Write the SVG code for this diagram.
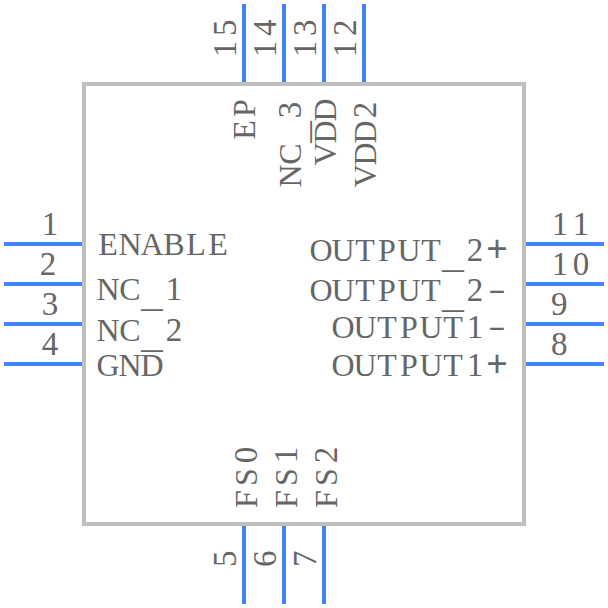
<svg xmlns="http://www.w3.org/2000/svg" width="608" height="608" viewBox="0 0 608 608">
<style>
.b{fill:none;stroke:#bfbfbf;stroke-width:4}
.p{stroke:#4286f4;stroke-width:4;fill:none}
text{font-family:"Liberation Serif","Times New Roman",serif;fill:#666;font-size:32px}
.n,.d{font-size:33px}
.u{font-family:"Liberation Mono","Courier New",monospace;font-size:36.7px}
.h{font-family:"Liberation Mono","Courier New",monospace;font-size:30px}
</style>
<rect width="608" height="608" fill="#fff"/>
<g id="body"><rect class="b" x="84" y="84" width="440" height="440"/></g>
<g id="connectors">
<path class="p" d="M4 244H82M4 284H82M4 324H82M4 364H82M526 244H604M526 284H604M526 324H604M526 364H604M244 4V82M284 4V82M324 4V82M364 4V82M244 526V604M284 526V604M324 526V604"/>
</g>
<g id="pin1"><text class="n" x="41.75" y="235">1</text><text x="98.22 118.45 140.45 163.33 186.22 208.22" y="255">ENABLE</text></g>
<g id="pin2"><text class="n" x="39.75" y="275">2</text><text x="96.45 119.33 141 165.75" y="300 300 307 300">NC<tspan class="u">_</tspan><tspan class="d">1</tspan></text></g>
<g id="pin3"><text class="n" x="41.75" y="315">3</text><text x="96.45 119.33 141 165.75" y="341 341 348 341">NC<tspan class="u">_</tspan><tspan class="d">2</tspan></text></g>
<g id="pin4"><text class="n" x="41.75" y="355">4</text><text x="96.45 118.45 140.45" y="376">GND</text></g>
<g id="pin11"><text class="n" x="551.75 572.75" y="235">11</text><text x="309.45 331.45 355.22 378.1 397.45 421.22 442 466.75 486" y="261 261 261 261 261 261 268 261 261">OUTPUT<tspan class="u">_</tspan><tspan class="d">2</tspan><tspan class="u">+</tspan></text></g>
<g id="pin10"><text class="n" x="551.75 572.75" y="275">10</text><text x="309.45 331.45 355.22 378.1 397.45 421.22 442 466.75" y="301 301 301 301 301 301 308 301">OUTPUT<tspan class="u">_</tspan><tspan class="d">2</tspan><tspan class="h" x="482" y="300" textLength="30" lengthAdjust="spacingAndGlyphs">-</tspan></text></g>
<g id="pin9"><text class="n" x="551" y="315">9</text><text x="331.45 353.45 377.22 400.1 419.45 443.22 466.75" y="338">OUTPUT<tspan class="d">1</tspan><tspan class="h" x="482" y="337" textLength="30" lengthAdjust="spacingAndGlyphs">-</tspan></text></g>
<g id="pin8"><text class="n" x="551" y="355">8</text><text x="331.45 353.45 377.22 400.1 419.45 443.22 466.75 486" y="376">OUTPUT<tspan class="d">1</tspan><tspan class="u">+</tspan></text></g>
<g id="pin15"><text class="n" transform="translate(236 58) rotate(-90)" x="0.75 22">15</text><text transform="translate(255 141) rotate(-90)" x="1.22 24.1">EP</text></g>
<g id="pin14"><text class="n" transform="translate(276 58) rotate(-90)" x="0.75 22">14</text><text transform="translate(301 187) rotate(-90)" x="-0.55 22.33 44 68.75" y="0 0 7 0">NC<tspan class="u">_</tspan><tspan class="d">3</tspan></text></g>
<g id="pin13"><text class="n" transform="translate(316 58) rotate(-90)" x="0.75 22">13</text><text transform="translate(336 165) rotate(-90)" x="-0.55 21.45 43.45">VDD</text></g>
<g id="pin12"><text class="n" transform="translate(356 58) rotate(-90)" x="0.75 22">12</text><text transform="translate(376 187) rotate(-90)" x="-0.55 21.45 43.45 68.75">VDD<tspan class="d">2</tspan></text></g>
<g id="pin5"><text class="n" transform="translate(236 567) rotate(-90)">5</text><text transform="translate(257 510) rotate(-90)" x="2.1 24.1 46.75">FS<tspan class="d">0</tspan></text></g>
<g id="pin6"><text class="n" transform="translate(276 567) rotate(-90)">6</text><text transform="translate(297 510) rotate(-90)" x="2.1 24.1 46.75">FS<tspan class="d">1</tspan></text></g>
<g id="pin7"><text class="n" transform="translate(316 567) rotate(-90)">7</text><text transform="translate(337 510) rotate(-90)" x="2.1 24.1 46.75">FS<tspan class="d">2</tspan></text></g>
</svg>
